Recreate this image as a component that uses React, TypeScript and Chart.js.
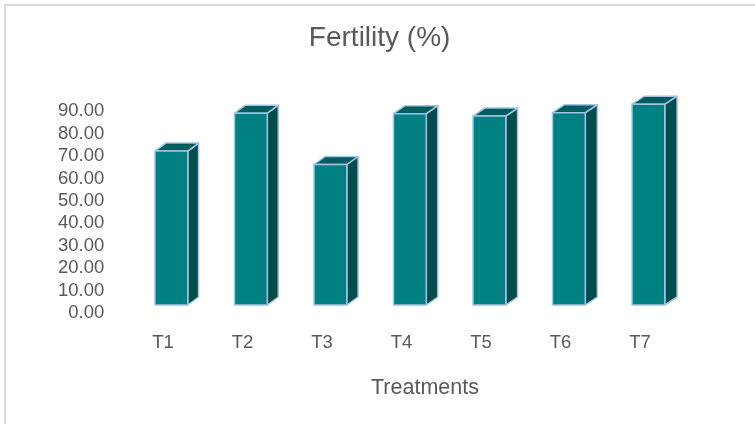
import React, { useEffect, useRef } from 'react';
import { Chart, registerables } from 'chart.js';

Chart.register(...registerables);

// ---- data ----
const CATEGORIES = ['T1', 'T2', 'T3', 'T4', 'T5', 'T6', 'T7'];
const FERTILITY = [72.3, 89.2, 66.3, 89.0, 87.9, 89.4, 93.2];
const Y_TICKS = [0, 10, 20, 30, 40, 50, 60, 70, 80, 90];
const Y_MAX = 100;
const TITLE = 'Fertility (%)';
const X_TITLE = 'Treatments';

// ---- style ----
const FRONT = '#008080';
const TOP = '#005d5d';
const SIDE = '#004d4d';
const EDGE = '#a3c2e6';
const FONT = "'Liberation Sans', Arial, sans-serif";
const TEXT = '#595959';

const bars3d = {
  id: 'bars3d',
  beforeDraw(chart: any) {
    const ctx = chart.ctx;
    ctx.save();
    ctx.fillStyle = '#ffffff';
    ctx.fillRect(0, 0, chart.width, chart.height);
    ctx.strokeStyle = '#d9d9d9';
    ctx.lineWidth = 2;
    ctx.beginPath();
    ctx.moveTo(5, chart.height + 5);
    ctx.lineTo(5, 5);
    ctx.lineTo(chart.width + 5, 5);
    ctx.stroke();
    ctx.restore();
  },
  beforeDatasetDraw() {
    return false;
  },
  afterDatasetsDraw(chart: any) {
    const ctx = chart.ctx;
    const meta = chart.getDatasetMeta(0);
    const area = chart.chartArea;
    const shift = -15.1;
    const floor = 8;
    const dy = 8;
    ctx.save();
    ctx.lineWidth = 1.5;
    ctx.lineJoin = 'round';
    ctx.strokeStyle = EDGE;
    meta.data.forEach((el: any) => {
      const { x, y, base, width } = el.getProps(['x', 'y', 'base', 'width'], true);
      const xl = x + shift - width / 2;
      const xr = x + shift + width / 2;
      const yb = base - floor;
      const yt = y;
      const dx = 10.6 + 1.8 * (xr - area.left) / (area.right - area.left);

      // side face
      ctx.beginPath();
      ctx.moveTo(xr, yt);
      ctx.lineTo(xr + dx, yt - dy);
      ctx.lineTo(xr + dx, yb - dy);
      ctx.lineTo(xr, yb);
      ctx.closePath();
      ctx.fillStyle = SIDE;
      ctx.fill();
      ctx.stroke();

      // top face
      ctx.beginPath();
      ctx.moveTo(xl, yt);
      ctx.lineTo(xr, yt);
      ctx.lineTo(xr + dx, yt - dy);
      ctx.lineTo(xl + dx, yt - dy);
      ctx.closePath();
      ctx.fillStyle = TOP;
      ctx.fill();
      ctx.stroke();

      // front face
      ctx.beginPath();
      ctx.rect(xl, yt, xr - xl, yb - yt);
      ctx.fillStyle = FRONT;
      ctx.fill();
      ctx.stroke();
    });
    ctx.restore();
  },
};

export default function App() {
  const ref = useRef<HTMLCanvasElement | null>(null);

  useEffect(() => {
    if (!ref.current) return;
    const chart = new Chart(ref.current, {
      type: 'bar',
      data: {
        labels: CATEGORIES,
        datasets: [
          {
            label: TITLE,
            data: FERTILITY,
            backgroundColor: FRONT,
            barPercentage: 0.4126,
            categoryPercentage: 1,
          },
        ],
      },
      options: {
        responsive: false,
        animation: false,
        devicePixelRatio: 1,
        layout: { padding: { left: 56, right: 51.75, top: 0, bottom: 0 } },
        plugins: {
          legend: { display: false },
          tooltip: { enabled: false },
          title: {
            display: true,
            text: TITLE,
            color: TEXT,
            font: { family: FONT, size: 28, weight: 'normal' },
            padding: { top: 21.4, bottom: 34 },
          },
        },
        scales: {
          x: {
            type: 'category',
            offset: true,
            grid: { display: false, drawTicks: false },
            border: { display: false },
            afterFit: (s: any) => {
              s.height = 111;
            },
            ticks: {
              color: TEXT,
              font: { family: FONT, size: 18.5 },
              padding: 19.2,
              labelOffset: -23.5,
              maxRotation: 0,
              autoSkip: false,
            },
            title: {
              display: true,
              text: X_TITLE,
              color: TEXT,
              font: { family: FONT, size: 21.5 },
              padding: { top: 20.5, bottom: 23.3 },
            },
          },
          y: {
            min: 0,
            max: Y_MAX,
            grid: { display: false, drawTicks: false },
            border: { display: false },
            afterBuildTicks: (s: any) => {
              s.ticks = Y_TICKS.map((v) => ({ value: v }));
            },
            afterFit: (s: any) => {
              s.width = 90.75;
            },
            ticks: {
              color: TEXT,
              font: { family: FONT, size: 18.5 },
              padding: 42.45,
              autoSkip: false,
              callback: (v: any) => Number(v).toFixed(2),
            },
          },
        },
      } as any,
      plugins: [bars3d],
    });
    return () => chart.destroy();
  }, []);

  return (
    <div style={{ position: 'fixed', left: 0, top: 0, width: 755, height: 424, background: '#fff' }}>
      <canvas ref={ref} width={755} height={424} style={{ display: 'block' }} />
    </div>
  );
}
